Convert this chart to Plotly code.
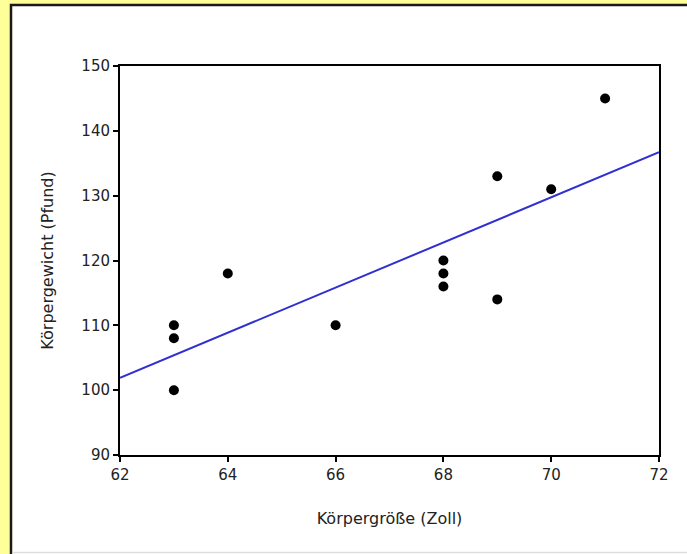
import plotly.graph_objects as go

# Data
height_in = [63, 63, 63, 64, 66, 68, 68, 68, 69, 69, 70, 71]
weight_lb = [110, 108, 100, 118, 110, 120, 118, 116, 133, 114, 131, 145]
trend_x = [62, 72]
trend_y = [101.9, 136.7]
x_ticks = [62, 64, 66, 68, 70, 72]
y_ticks = [90, 100, 110, 120, 130, 140, 150]

W, H = 687, 554
L, R, T, B = 120, 28, 66, 99
pw, ph = W - L - R, H - T - B

def px_x(p):
    return (p - L) / pw

def px_y(p):
    return (H - B - p) / ph

fig = go.Figure()
fig.add_trace(go.Scatter(x=trend_x, y=trend_y, mode="lines",
                         line=dict(color="#3030D0", width=2), showlegend=False, hoverinfo="skip"))
fig.add_trace(go.Scatter(x=height_in, y=weight_lb, mode="markers",
                         marker=dict(color="black", size=10), showlegend=False))

ff = "DejaVu Sans, Verdana, sans-serif"
tickfont = dict(family=ff, size=15, color="#222222")
titlefont = dict(family=ff, size=16, color="#222222")

fig.update_layout(
    width=W, height=H,
    margin=dict(l=L, r=R, t=T, b=B, autoexpand=False),
    paper_bgcolor="#FFFF99",
    plot_bgcolor="white",
    font=dict(family=ff, size=14, color="#222222"),
    xaxis=dict(range=[62, 72], tickvals=x_ticks, showgrid=False, zeroline=False,
               showline=True, linecolor="black", linewidth=2, mirror=True,
               ticks="outside", ticklen=5, tickwidth=2, tickcolor="black",
               tickfont=tickfont,
               title=dict(text="Körpergröße (Zoll)", standoff=30, font=titlefont)),
    yaxis=dict(range=[90, 150], tickvals=y_ticks, showgrid=False, zeroline=False,
               showline=True, linecolor="black", linewidth=2, mirror=True,
               ticks="outside", ticklen=5, tickwidth=2, tickcolor="black",
               tickfont=tickfont,
               title=dict(text="Körpergewicht (Pfund)", standoff=24, font=titlefont)),
    shapes=[
        dict(type="rect", xref="paper", yref="paper", layer="below",
             x0=px_x(11), x1=px_x(700), y0=px_y(570), y1=px_y(5),
             fillcolor="white", line=dict(color="#1a1a1a", width=2.5)),
        dict(type="line", xref="paper", yref="paper", layer="below",
             x0=px_x(12.5), x1=px_x(700), y0=px_y(552.5), y1=px_y(552.5),
             line=dict(color="#dddddd", width=1.5)),
    ],
)

fig.write_html("out.html", config={"displayModeBar": False},
               post_script="document.body.style.margin='0';document.body.style.padding='0';document.body.style.overflow='hidden';")
